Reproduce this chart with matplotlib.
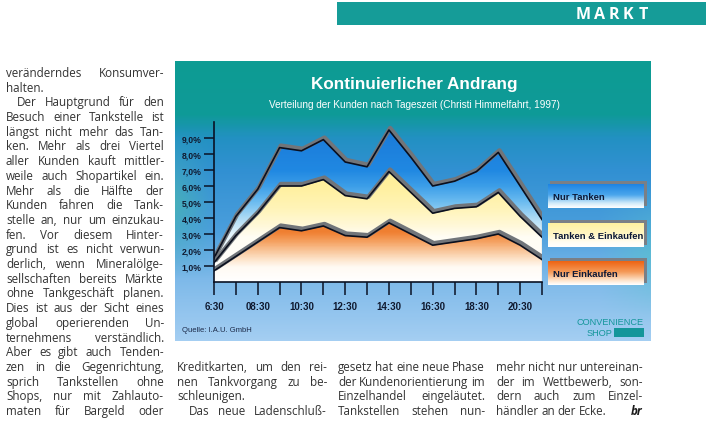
import numpy as np
import matplotlib
matplotlib.use("Agg")
import matplotlib.pyplot as plt
from matplotlib.colors import LinearSegmentedColormap, to_rgb
from matplotlib.patches import Rectangle
from matplotlib.transforms import offset_copy

# ---- data ----
times = ["6:30", "7:30", "8:30", "9:30", "10:30", "11:30", "12:30", "13:30",
         "14:30", "15:30", "16:30", "17:30", "18:30", "19:30", "20:30", "21:30"]
tick_labels = ["6:30", "08:30", "10:30", "12:30", "14:30", "16:30", "18:30", "20:30"]
nur_einkaufen = [0.7, 1.6, 2.5, 3.4, 3.2, 3.5, 2.9, 2.8, 3.7, 3.0, 2.3, 2.5, 2.7, 3.0, 2.3, 1.4]
tanken_einkaufen = [0.5, 1.3, 1.8, 2.6, 2.8, 2.9, 2.5, 2.4, 3.2, 2.6, 2.0, 2.1, 2.0, 2.6, 1.8, 1.4]
nur_tanken = [0.3, 1.2, 1.5, 2.4, 2.2, 2.5, 2.1, 2.0, 2.6, 2.2, 1.7, 1.7, 2.2, 2.5, 1.9, 1.1]
series_names = ["Nur Tanken", "Tanken & Einkaufen", "Nur Einkaufen"]
y_ticks = [1, 2, 3, 4, 5, 6, 7, 8, 9]

col1 = ["veränderndes Konsumver-", "halten.", "Der Hauptgrund für den",
        "Besuch einer Tankstelle ist", "längst nicht mehr das Tan-",
        "ken. Mehr als drei Viertel", "aller Kunden kauft mittler-",
        "weile auch Shopartikel ein.", "Mehr als die Hälfte der",
        "Kunden fahren die Tank-", "stelle an, nur um einzukau-",
        "fen. Vor diesem Hinter-", "grund ist es nicht verwun-",
        "derlich, wenn Mineralölge-", "sellschaften bereits Märkte",
        "ohne Tankgeschäft planen.", "Dies ist aus der Sicht eines",
        "global operierenden Un-", "ternehmens verständlich.",
        "Aber es gibt auch Tenden-", "zen in die Gegenrichtung,",
        "sprich Tankstellen ohne", "Shops, nur mit Zahlauto-",
        "maten für Bargeld oder"]
col2 = ["Kreditkarten, um den rei-", "nen Tankvorgang zu be-", "schleunigen.",
        "Das neue Ladenschluß-"]
col3 = ["gesetz hat eine neue Phase", "der Kundenorientierung im",
        "Einzelhandel eingeläutet.", "Tankstellen stehen nun-"]
col4 = ["mehr nicht nur untereinan-", "der im Wettbewerb, son-",
        "dern auch zum Einzel-", "händler an der Ecke."]

W, H = 706, 431
fig = plt.figure(figsize=(W / 100, H / 100), dpi=100)
fig.patch.set_facecolor("white")

# page axes in pixel units
pg = fig.add_axes([0, 0, 1, 1])
pg.set_xlim(0, W)
pg.set_ylim(H, 0)
pg.axis("off")

# header bar
pg.add_patch(Rectangle((337, 3), W - 337, 23, color="#159c98", lw=0))
for ch, xx in zip("MARKT", [583, 600, 614, 628, 643]):
    pg.text(xx, 15, ch, color="white", fontsize=11.5, fontweight="bold",
            family="Open Sans", ha="center", va="center")

# chart panel background
pl, pr, pt, pb = 175, 651, 62, 342
def stops_cmap(stops, lo, hi):
    return LinearSegmentedColormap.from_list(
        "g", [((v - lo) / (hi - lo), c) for v, c in stops])

bg_cmap = stops_cmap([(62, "#0d9c93"), (115, "#0f9a98"), (138, "#2291c2"),
                      (170, "#3190d2"), (230, "#4a9edc"), (280, "#7db9e9"),
                      (342, "#a4cef2")], 62, 342)
yy = np.linspace(0, 1, 280)
xx = np.linspace(pl, pr, 476)
base = bg_cmap(yy)[:, None, :3] * np.ones((1, len(xx), 1))
ypx = pt + yy * (pb - pt)
# teal tint left of the y axis and on the right edge (scan look)
wl = np.clip(1 - (xx - pl) / 40, 0, 1)[None, :] * \
     np.clip(1 - np.abs(ypx - 205) / 75, 0, 1)[:, None]
wr = np.clip((xx - 600) / 50, 0, 1)[None, :] * \
     np.clip(1 - np.abs(ypx - 255) / 70, 0, 1)[:, None]
teal_l = np.array(to_rgb("#48b4b4"))
teal_r = np.array(to_rgb("#58c4cc"))
img = base * (1 - 0.8 * wl[..., None]) + teal_l * 0.8 * wl[..., None]
img = img * (1 - 0.6 * wr[..., None]) + teal_r * 0.6 * wr[..., None]
pg.imshow(img, aspect="auto", extent=(pl, pr, pb, pt),
          interpolation="bilinear", zorder=1)

pg.text(414, 84, "Kontinuierlicher Andrang", color="white", fontsize=12.3,
        fontweight="bold", family="Liberation Sans", ha="center", va="center", zorder=3)
pg.text(414, 105, "Verteilung der Kunden nach Tageszeit (Christi Himmelfahrt, 1997)",
        color="white", fontsize=7.2, family="Liberation Sans", ha="center",
        va="center", zorder=3)
pg.text(182, 331, "Quelle: I.A.U. GmbH", color="#1c2a48", fontsize=5.5,
        family="Liberation Sans", ha="left", va="center", zorder=3)
pg.text(644, 323, "CONVENIENCE", color="#14969a", fontsize=6.6,
        family="Liberation Sans", ha="right", va="center", zorder=3)
pg.text(612, 333.5, "SHOP", color="#14969a", fontsize=6.6,
        family="Liberation Sans", ha="right", va="center", zorder=3)
pg.add_patch(Rectangle((614, 329), 30, 9, color="#14969a", lw=0, zorder=3))

# legend boxes
box_grads = [["#1e84e2", "#4aa6ec", "#cfeaf9", "#ffffff"],
             ["#fff1a0", "#fff6c4", "#fffdf2", "#ffffff"],
             ["#ee6414", "#f59a58", "#fde2c8", "#ffffff"]]
box_y = [185, 224, 262]
for name, grad, by in zip(series_names, box_grads, box_y):
    pg.add_patch(Rectangle((550, by - 3), 97, 25, color="#7a7f86", lw=0, zorder=2))
    cm = LinearSegmentedColormap.from_list("b", list(zip([0, 0.45, 0.8, 1], grad)))
    pg.imshow(np.linspace(0, 1, 50).reshape(-1, 1), cmap=cm, aspect="auto",
              extent=(548, 644, by + 24, by), interpolation="bilinear", zorder=3)
    pg.text(553, by + 13, name, color="#0c1836", fontsize=6.8, fontweight="bold",
            family="Liberation Sans", ha="left", va="center", zorder=4)

# ---- chart axes ----
x0, x1, y0, y1 = 214, 542, 283, 123
ax = fig.add_axes([x0 / W, 1 - y0 / H, (x1 - x0) / W, (y0 - y1) / H])
ax.patch.set_alpha(0)
ax.set_xlim(0, len(times) - 1)
ax.set_ylim(0, 10)
x = np.arange(len(times))
low = np.array(nur_einkaufen)
mid = low + np.array(tanken_einkaufen)
top = mid + np.array(nur_tanken)

band_stops = [
    [(0, "#ffffff"), (3.0, "#e4f4fc"), (4.0, "#acdaf5"), (5.0, "#6cbcf0"),
     (6.0, "#3c9ee8"), (7.0, "#2088e2"), (10, "#1a78d6")],
    [(0, "#ffffff"), (2.8, "#fffdf4"), (3.6, "#fff8d6"), (4.6, "#fff4b8"),
     (6.0, "#fff09e"), (10, "#ffe880")],
    [(0, "#ffffff"), (0.9, "#fffaf3"), (1.4, "#fde4ca"), (1.9, "#f9c79c"),
     (2.5, "#f5a262"), (3.1, "#f08032"), (10, "#ec6410")],
]
bands = [(mid, top), (low, mid), (np.zeros_like(low), low)]
for (lo_, hi_), st in zip(bands, band_stops):
    poly = ax.fill_between(x, lo_, hi_, facecolor="none", edgecolor="none")
    cm = stops_cmap(st, 0, 10)
    im = ax.imshow(np.linspace(0, 1, 300).reshape(-1, 1), cmap=cm, origin="lower",
                   extent=(0, len(times) - 1, 0, 10), aspect="auto",
                   interpolation="bilinear", zorder=1)
    im.set_clip_path(poly.get_paths()[0], transform=ax.transData)

shadow = offset_copy(ax.transData, fig=fig, x=1.2, y=2.0, units="dots")
ax.plot([x[-1], x[-1]], [0, top[-1]], color="#777b80", lw=3, zorder=2,
        transform=offset_copy(ax.transData, fig=fig, x=1.5, y=0, units="dots"))
for line in (top, mid, low):
    ax.plot(x, line, color="#71757a", lw=3.2, zorder=2, transform=shadow,
            solid_capstyle="butt")
    ax.plot(x, line, color="#0a0f1e", lw=1.2, zorder=3)

for s in ("top", "right"):
    ax.spines[s].set_visible(False)
for s in ("left", "bottom"):
    ax.spines[s].set_color("#0a1224")
    ax.spines[s].set_linewidth(1.2)
    ax.spines[s].set_zorder(4)
ax.set_yticks(y_ticks)
ax.set_yticklabels([f"{v:.1f}%".replace(".", ",") for v in y_ticks])
ax.set_xticks(x)
ax.set_xticklabels([next((l for l in tick_labels if l.lstrip("0") == t), "")
                    for t in times])
ax.tick_params(axis="y", direction="out", length=7, width=1.1, color="#0a1224",
               labelsize=6.2, labelcolor="#101a30", pad=2)
ax.tick_params(axis="x", direction="out", length=9, width=1.1, color="#0a1224",
               labelsize=7, labelcolor="#101a30", pad=5)
for lab in ax.get_yticklabels() + ax.get_xticklabels():
    lab.set_fontweight("bold")
    lab.set_family("Liberation Sans")

# ---- body text, justified word by word ----
renderer = fig.canvas.get_renderer()
body_kw = dict(fontsize=8.4, family="Open Sans", color="#333333",
               va="baseline", ha="left")

def word_w(s):
    t = pg.text(0, 0, s, **body_kw)
    w = t.get_window_extent(renderer).width
    t.remove()
    return w

space_w = word_w("n n") - word_w("nn")

def set_line(txt, left, right, y, justify=True):
    words = txt.split()
    widths = [word_w(w) for w in words]
    if justify and len(words) > 1:
        gap = max((right - left - sum(widths)) / (len(words) - 1), space_w * 0.6)
    else:
        gap = space_w
    xx = left
    for w, wd in zip(words, widths):
        pg.text(xx, y, w, **body_kw)
        xx += wd + gap

lh = 14.7
base_y = 77
for i, line in enumerate(col1):
    left = 17 if i == 2 else 6
    set_line(line, left, 164, base_y + i * lh, justify=(i != 1))

for lines, left, right in ((col2, 177, 327), (col3, 338, 485), (col4, 496, 643)):
    for i, line in enumerate(lines):
        l = left + 12 if (lines is col2 and i == 3) else left
        just = not (lines is col2 and i == 2) and not (lines is col4 and i == 3)
        set_line(line, l, right, base_y + (20 + i) * lh, justify=just)
pg.text(643, base_y + 23 * lh, "br", fontsize=8.4, family="Open Sans",
        fontweight="bold", style="italic", color="#1a1a1a", ha="right", va="baseline")

fig.savefig("out.png", dpi=100)
